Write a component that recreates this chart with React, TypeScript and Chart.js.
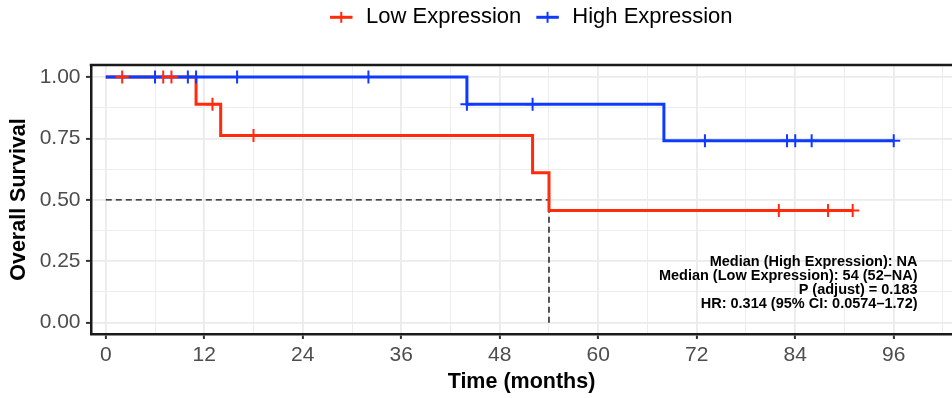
import React, { useEffect, useRef } from 'react';
import { Chart, registerables } from 'chart.js';

Chart.register(...registerables);

// ---- Data ----
const seriesLabels = ['Low Expression', 'High Expression'];
const seriesColors = ['#FF2B0D', '#0F3BFF'];

const lowTimes = [0, 11, 14, 52, 54, 91];
const lowSurv = [1, 0.889, 0.762, 0.61, 0.457, 0.457];
const lowCensorTimes = [2, 7, 8, 13, 18, 82, 88, 91];
const lowCensorSurv = [1, 1, 1, 0.889, 0.762, 0.457, 0.457, 0.457];

const highTimes = [0, 44, 68, 96];
const highSurv = [1, 0.889, 0.741, 0.741];
const highCensorTimes = [6, 10, 11, 16, 32, 44, 52, 73, 83, 84, 86, 96];
const highCensorSurv = [1, 1, 1, 1, 1, 0.889, 0.889, 0.741, 0.741, 0.741, 0.741, 0.741];

const medianTimes = [0, 54, 54];
const medianSurv = [0.5, 0.5, 0];

const xMajorTicks = [0, 12, 24, 36, 48, 60, 72, 84, 96];
const xTickLabels = ['0', '12', '24', '36', '48', '60', '72', '84', '96'];
const xMinorTicks = [6, 18, 30, 42, 54, 66, 78, 90, 102];

const yMajorTicks = [0, 0.25, 0.5, 0.75, 1];
const yTickLabels = ['0.00', '0.25', '0.50', '0.75', '1.00'];
const yMinorTicks = [0.125, 0.375, 0.625, 0.875];

const annotationLines = [
  'Median (High Expression): NA',
  'Median (Low Expression): 54 (52\u2013NA)',
  'P (adjust) = 0.183',
  'HR: 0.314 (95% CI: 0.0574\u20131.72)',
];
const annotX = 98.9;
const annotY = 0.229;

const FONT = "'Liberation Sans', Arial, sans-serif";

const toPts = (xs: number[], ys: number[]) => xs.map((x, i) => ({ x, y: ys[i] }));
const findIdx = (arr: number[], v: number) => arr.findIndex((a) => Math.abs(a - v) < 1e-6);

const legendPlugin = {
  id: 'kmLegend',
  afterDraw(chart: any) {
    const ctx = chart.ctx;
    ctx.save();
    ctx.font = `22px ${FONT}`;
    ctx.textBaseline = 'alphabetic';
    ctx.textAlign = 'left';
    let x = 330;
    const cy = 17.3;
    const base = 22.9;
    seriesLabels.forEach((label, i) => {
      const c = seriesColors[i];
      ctx.strokeStyle = c;
      ctx.lineWidth = 3;
      ctx.beginPath();
      ctx.moveTo(x, cy);
      ctx.lineTo(x + 22.5, cy);
      ctx.stroke();
      ctx.lineWidth = 2;
      ctx.beginPath();
      ctx.moveTo(x + 11.25, cy - 5.5);
      ctx.lineTo(x + 11.25, cy + 5.5);
      ctx.stroke();
      ctx.fillStyle = '#000';
      const tx = x + 22.5 + 13.5;
      ctx.fillText(label, tx, base);
      x = tx + ctx.measureText(label).width + 15;
    });
    ctx.restore();
  },
};

const framePlugin = {
  id: 'frameTop',
  afterDraw(chart: any) {
    const { ctx, chartArea } = chart;
    ctx.save();
    ctx.strokeStyle = '#1A1A1A';
    ctx.lineWidth = 2.5;
    ctx.beginPath();
    ctx.moveTo(chartArea.left - 1.25, chartArea.top);
    ctx.lineTo(chartArea.right, chartArea.top);
    ctx.stroke();
    ctx.restore();
  },
};

const annotationPlugin = {
  id: 'kmAnnot',
  afterDraw(chart: any) {
    const { ctx } = chart;
    const xs = chart.scales.x;
    const ys = chart.scales.y;
    ctx.save();
    ctx.font = `bold 14.5px ${FONT}`;
    ctx.textAlign = 'right';
    ctx.textBaseline = 'alphabetic';
    ctx.fillStyle = '#000';
    const px = xs.getPixelForValue(annotX);
    const py = ys.getPixelForValue(annotY);
    annotationLines.forEach((t, i) => ctx.fillText(t, px, py + i * 13.8));
    ctx.restore();
  },
};

export default function App() {
  const ref = useRef<HTMLCanvasElement>(null);

  useEffect(() => {
    document.body.style.margin = '0';
    const canvas = ref.current!;
    Chart.defaults.font.family = FONT;

    const chart = new Chart(canvas, {
      type: 'scatter',
      data: {
        datasets: [
          {
            type: 'scatter',
            label: 'High censor',
            data: toPts(highCensorTimes, highCensorSurv),
            pointStyle: 'cross',
            pointRadius: 6.5,
            pointHoverRadius: 6.5,
            pointBorderWidth: 2,
            borderColor: seriesColors[1],
            backgroundColor: seriesColors[1],
          },
          {
            type: 'scatter',
            label: 'Low censor',
            data: toPts(lowCensorTimes, lowCensorSurv),
            pointStyle: 'cross',
            pointRadius: 6.5,
            pointHoverRadius: 6.5,
            pointBorderWidth: 2,
            borderColor: seriesColors[0],
            backgroundColor: seriesColors[0],
          },
          {
            type: 'line',
            label: seriesLabels[1],
            data: toPts(highTimes, highSurv),
            stepped: 'before',
            borderColor: seriesColors[1],
            borderWidth: 3,
            pointRadius: 0,
            fill: false,
          } as any,
          {
            type: 'line',
            label: seriesLabels[0],
            data: toPts(lowTimes, lowSurv),
            stepped: 'before',
            borderColor: seriesColors[0],
            borderWidth: 3,
            pointRadius: 0,
            fill: false,
          } as any,
          {
            type: 'line',
            label: 'Median',
            data: toPts(medianTimes, medianSurv),
            borderColor: '#111',
            borderWidth: 1.4,
            borderDash: [6, 4],
            pointRadius: 0,
            fill: false,
          } as any,
        ],
      },
      options: {
        animation: false,
        responsive: false,
        maintainAspectRatio: false,
        layout: { autoPadding: false, padding: { top: 65, left: 0, right: 0, bottom: 0 } },
        plugins: {
          legend: { display: false },
          tooltip: { enabled: false },
        },
        scales: {
          x: {
            type: 'linear',
            min: -1.8,
            max: 103.1,
            afterBuildTicks: (s: any) => {
              s.ticks = [...xMajorTicks, ...xMinorTicks].sort((a, b) => a - b).map((v) => ({ value: v }));
            },
            afterFit: (s: any) => {
              s.height = 64;
              s.paddingLeft = 0;
              s.paddingRight = 0;
            },
            ticks: {
              autoSkip: false,
              maxRotation: 0,
              padding: 3.5,
              color: '#4D4D4D',
              font: { size: 21 },
              callback: (v: any) => {
                const i = findIdx(xMajorTicks, Number(v));
                return i >= 0 ? xTickLabels[i] : '';
              },
            },
            grid: {
              color: '#EBEBEB',
              lineWidth: (c: any) => (findIdx(xMajorTicks, c.tick?.value) >= 0 ? 1.8 : 0.9),
              tickLength: 5,
              tickWidth: 2,
              tickColor: (c: any) => (findIdx(xMajorTicks, c.tick?.value) >= 0 ? '#333333' : 'rgba(0,0,0,0)'),
            },
            border: { color: '#1A1A1A', width: 2.5 },
            title: {
              display: true,
              text: 'Time (months)',
              color: '#000',
              font: { size: 21.5, weight: 'bold' },
              padding: { top: 0, bottom: 3 },
            },
          },
          y: {
            type: 'linear',
            min: -0.046,
            max: 1.049,
            afterBuildTicks: (s: any) => {
              s.ticks = [...yMajorTicks, ...yMinorTicks].sort((a, b) => a - b).map((v) => ({ value: v }));
            },
            afterFit: (s: any) => {
              s.width = 91;
            },
            ticks: {
              autoSkip: false,
              padding: 5.5,
              color: '#4D4D4D',
              font: { size: 21 },
              callback: (v: any) => {
                const i = findIdx(yMajorTicks, Number(v));
                return i >= 0 ? yTickLabels[i] : '';
              },
            },
            grid: {
              color: '#EBEBEB',
              lineWidth: (c: any) => (findIdx(yMajorTicks, c.tick?.value) >= 0 ? 1.8 : 0.9),
              tickLength: 5,
              tickWidth: 2,
              tickColor: (c: any) => (findIdx(yMajorTicks, c.tick?.value) >= 0 ? '#333333' : 'rgba(0,0,0,0)'),
            },
            border: { color: '#1A1A1A', width: 2.5 },
            title: {
              display: true,
              text: 'Overall Survival',
              color: '#000',
              font: { size: 21.5, weight: 'bold' },
              padding: { top: 6, bottom: 0 },
            },
          },
        },
      } as any,
      plugins: [legendPlugin, framePlugin, annotationPlugin],
    });

    return () => chart.destroy();
  }, []);

  return (
    <div style={{ width: 952, height: 398 }}>
      <canvas ref={ref} width={952} height={398} style={{ display: 'block', width: 952, height: 398 }} />
    </div>
  );
}
